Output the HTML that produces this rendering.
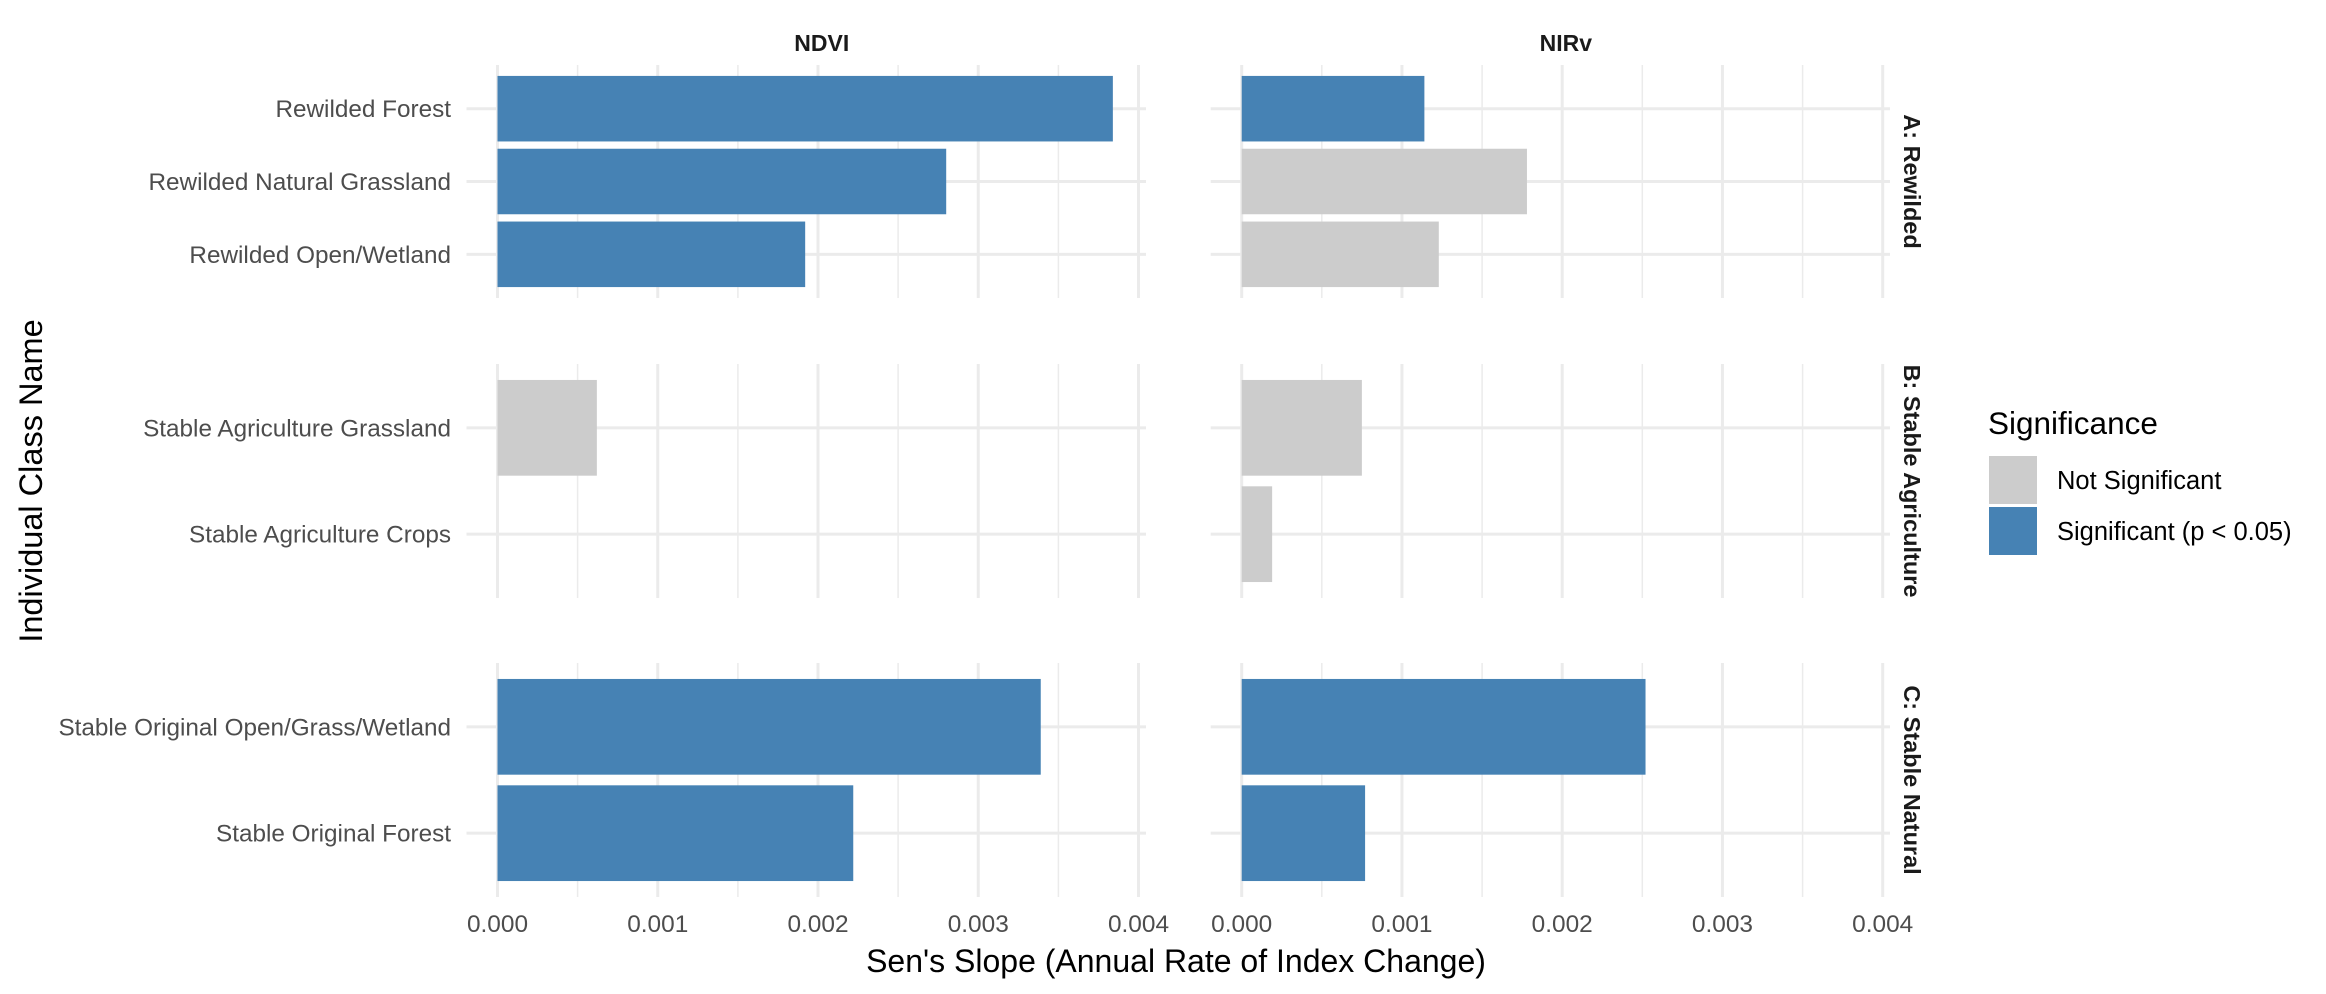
<!DOCTYPE html>
<html><head><meta charset="utf-8"><style>
html,body{margin:0;padding:0;background:#fff;}
svg{display:block;font-family:"Liberation Sans",Arial,sans-serif;}
</style></head><body>
<svg id="chart" width="2326" height="994" viewBox="0 0 2326 994" xmlns="http://www.w3.org/2000/svg"></svg>
<script>
const groups = ["A: Rewilded", "B: Stable Agriculture", "C: Stable Natural"];
const groupCategories = [
  ["Rewilded Forest", "Rewilded Natural Grassland", "Rewilded Open/Wetland"],
  ["Stable Agriculture Grassland", "Stable Agriculture Crops"],
  ["Stable Original Open/Grass/Wetland", "Stable Original Forest"]
];
const indices = ["NDVI", "NIRv"];
const ndviValues = [[0.00384, 0.0028, 0.00192], [0.00062, 0], [0.00339, 0.00222]];
const nirvValues = [[0.00114, 0.00178, 0.00123], [0.00075, 0.00019], [0.00252, 0.00077]];
const ndviSig = [[true, true, true], [false, false], [true, true]];
const nirvSig = [[true, false, false], [false, false], [true, true]];
const xTicks = [0, 0.001, 0.002, 0.003, 0.004];
const xTickLabels = ["0.000", "0.001", "0.002", "0.003", "0.004"];
const legendLabels = ["Not Significant", "Significant (p < 0.05)"];

const NS = "http://www.w3.org/2000/svg";
const svg = document.getElementById("chart");
const BLUE = "#4682b4", GREY = "#cccccc";
const panelX = [[497.5, 1146], [1241.7, 1890]];
const zeroX = [497.5, 1241.7];
const pxPerUnit = 641 / 0.004;
const panelY = [[65, 298], [364, 598], [663, 897]];
function xScale(col, v) { return zeroX[col] + v * pxPerUnit; }
function yStep(r) { return (panelY[r][1] - panelY[r][0]) / (groupCategories[r].length - 1 + 1.2); }
function yScale(r, i) { return panelY[r][0] + yStep(r) * (0.6 + i); }
function mk(tag, attrs, parent) {
  const e = document.createElementNS(NS, tag);
  for (const k in attrs) e.setAttribute(k, attrs[k]);
  (parent || svg).appendChild(e);
  return e;
}

for (let r = 0; r < groups.length; r++) {
  for (let c = 0; c < indices.length; c++) {
    const g = mk("g", {});
    
    
    const [y0, y1] = panelY[r];
    const [px0, px1] = panelX[c];
    for (let t = 0.0005; t < 0.0041; t += 0.001) {
      const x = xScale(c, t);
      const l = mk("line", {x1: x, x2: x, y1: y0, y2: y1, stroke: "#ebebeb", "stroke-width": 1.5}, g);
      
      
    }
    for (let i = 0; i < xTicks.length; i++) {
      const x = xScale(c, xTicks[i]);
      const l = mk("line", {x1: x, x2: x, y1: y0, y2: y1, stroke: "#ebebeb", "stroke-width": 3}, g);
      
      
    }
    const cats = groupCategories[r];
    for (let i = 0; i < cats.length; i++) {
      const y = yScale(r, i);
      const l = mk("line", {x1: px0 - 31, x2: px1, y1: y, y2: y, stroke: "#ebebeb", "stroke-width": 3}, g);
      
      
    }
    const vals = c === 0 ? ndviValues[r] : nirvValues[r];
    const sig = c === 0 ? ndviSig[r] : nirvSig[r];
    const bh = yStep(r) * 0.9;
    for (let i = 0; i < cats.length; i++) {
      const v = vals[i];
      if (!v) continue;
      const x0 = xScale(c, 0), x1 = xScale(c, v);
      const b = mk("rect", {x: x0, y: yScale(r, i) - bh / 2, width: x1 - x0, height: bh, fill: sig[i] ? BLUE : GREY}, g);
      
      
    }
  }
  const cats = groupCategories[r];
  for (let i = 0; i < cats.length; i++) {
    const t = mk("text", {x: 451, y: yScale(r, i) + 8.5, "text-anchor": "end", "font-size": 24.3, fill: "#4d4d4d"});
    t.textContent = cats[i];
    
    
  }
  const cy = (panelY[r][0] + panelY[r][1]) / 2;
  const s = mk("text", {x: 1912, y: cy, "text-anchor": "middle", "font-size": 23.5, "font-weight": "bold", fill: "#1a1a1a", transform: "rotate(90 1912 " + cy + ")", "dominant-baseline": "central"});
  s.textContent = groups[r];
  
  
}

for (let c = 0; c < indices.length; c++) {
  const cx = (panelX[c][0] + panelX[c][1]) / 2;
  const s = mk("text", {x: cx, y: 51, "text-anchor": "middle", "font-size": 23, "font-weight": "bold", fill: "#1a1a1a"});
  s.textContent = indices[c];
  
  
  for (let i = 0; i < xTicks.length; i++) {
    const t = mk("text", {x: xScale(c, xTicks[i]), y: 932, "text-anchor": "middle", "font-size": 24.4, fill: "#4d4d4d"});
    t.textContent = xTickLabels[i];
    
    
  }
}

const xt = mk("text", {x: 1176, y: 972, "text-anchor": "middle", "font-size": 32, fill: "#000"});
xt.textContent = "Sen's Slope (Annual Rate of Index Change)";



const yt = mk("text", {x: 31, y: 481, "text-anchor": "middle", "font-size": 32.5, fill: "#000", transform: "rotate(-90 31 481)", "dominant-baseline": "central"});
yt.textContent = "Individual Class Name";



const lt = mk("text", {x: 1988, y: 434, "font-size": 31.5, fill: "#000"});
lt.textContent = "Significance";


const keyColors = [GREY, BLUE];
for (let i = 0; i < legendLabels.length; i++) {
  const ky = 456 + i * 51;
  const k = mk("rect", {x: 1989, y: ky, width: 48, height: 48, fill: keyColors[i]});
  
  
  const t = mk("text", {x: 2057, y: ky + 33, "font-size": 25.5, fill: "#000"});
  t.textContent = legendLabels[i];
  
  
}
</script>
</body></html>
